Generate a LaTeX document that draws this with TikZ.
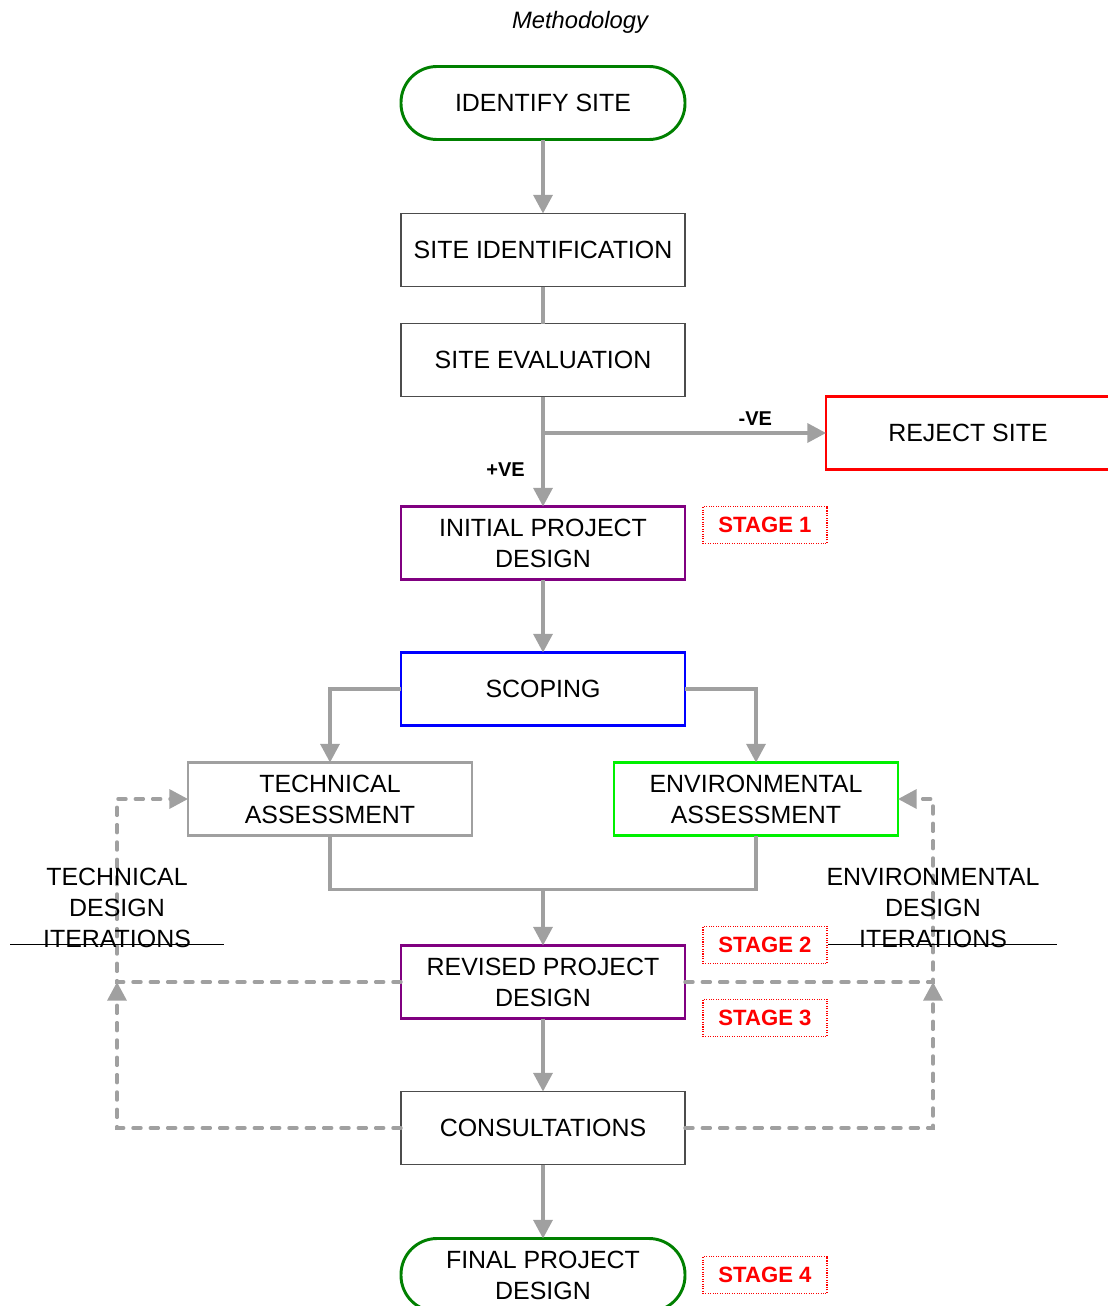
\documentclass[tikz,border=0pt]{standalone}
\usepackage{fontspec}
\setmainfont{Liberation Sans}
\usetikzlibrary{arrows.meta,positioning,calc}
\definecolor{linkgray}{HTML}{A0A0A0}
\definecolor{termgreen}{HTML}{008000}
\definecolor{envgreen}{HTML}{00F000}
\definecolor{designpurple}{HTML}{800080}
\newcommand{\boxfont}{\fontsize{18.7pt}{23.25pt}\selectfont}
\newcommand{\stagefont}{\fontsize{16.6pt}{20pt}\selectfont\bfseries}
\newcommand{\signfont}{\fontsize{15pt}{18pt}\selectfont\bfseries}
\tikzset{
    box/.style={
           rectangle,
           draw=black!70, line width=0.8pt,
           minimum width=213pt, minimum height=54.75pt,
           inner sep=2pt, outer sep=0pt,
           align=center,
           font=\boxfont,
           },
}
\tikzset{
    term/.style={
           box,
           rounded corners=27pt,
           draw=termgreen, line width=2.2pt,
           },
}
\tikzset{
    stagebox/.style={
           rectangle,
           draw=red, densely dotted, line width=0.8pt,
           minimum width=93pt, minimum height=27.75pt,
           inner sep=0pt, outer sep=0pt,
           text=red,
           font=\stagefont,
           },
}
\tikzset{
    link/.style={draw=linkgray, line width=2.6pt, -{Triangle[length=14pt,width=14.25pt]}},
    plain/.style={draw=linkgray, line width=2.6pt},
    iter/.style={draw=linkgray, line width=2.6pt, line cap=round, dash pattern=on 6pt off 7pt,
           -{Triangle[length=14pt,width=14.25pt]}},
    iterlabel/.style={align=center, font=\boxfont, inner sep=0pt},
}

\begin{document}
\begin{tikzpicture}
\useasboundingbox (0,0) rectangle (830.25pt,-979.5pt);
\node[font=\fontsize{17.8pt}{20pt}\selectfont\itshape] (title) at (435pt,-16.5pt) {Methodology};
\node[term] (identify) at (407.25pt,-77.25pt) {IDENTIFY SITE};
\node[box, below = 55.5pt of identify] (siteid) {SITE IDENTIFICATION};
\node[box, below = 27.75pt of siteid] (siteeval) {SITE EVALUATION};
\node[box, draw=red, line width=1.9pt, right = 105.75pt of siteeval, yshift=-54.75pt] (reject) {REJECT SITE};
\node[box, draw=designpurple, line width=1.9pt, below = 82.5pt of siteeval] (initial) {INITIAL PROJECT\\DESIGN};
\node[box, draw=blue, line width=1.9pt, below = 54.75pt of initial] (scoping) {SCOPING};
\node[box, draw=linkgray, line width=1.9pt, below = 27.75pt of scoping, xshift=-159.75pt] (tech) {TECHNICAL\\ASSESSMENT};
\node[box, draw=envgreen, line width=1.9pt, below = 27.75pt of scoping, xshift=159.75pt] (env) {ENVIRONMENTAL\\ASSESSMENT};
\node[box, draw=designpurple, line width=1.9pt, below = 165pt of scoping] (revised) {REVISED PROJECT\\DESIGN};
\node[box, below = 54.75pt of revised] (consult) {CONSULTATIONS};
\node[term, below = 55.5pt of consult] (final) {FINAL PROJECT\\DESIGN};

% stage tags
\node[stagebox, below right = 0pt and 13.5pt of initial.north east] (stage1) {STAGE 1};
\node[stagebox, above right = 13.9pt and 13.5pt of revised.east] (stage2) {STAGE 2};
\node[stagebox, below right = 13.1pt and 13.5pt of revised.east] (stage3) {STAGE 3};
\node[stagebox, right = 13.5pt of final] (stage4) {STAGE 4};

% junction points
\coordinate (split) at (siteeval.south |- reject.west);
\coordinate[above = 42pt of revised.north] (merge);
\coordinate[left = 53.25pt of tech.west] (tl);
\coordinate[right = 26.25pt of env.east] (tr);
\coordinate (tlm) at (tl |- revised.west);
\coordinate (trm) at (tr |- revised.east);

\draw[link] (identify) -- (siteid);
\draw[plain] (siteid) -- (siteeval);
\draw[plain] (siteeval) -- (split);
\draw[link] (split) -- node[pos=0.75, above=1pt, font=\signfont] (neg) {-VE} (reject.west);
\draw[link] (split) -- node[pos=0.5, left=9pt, font=\signfont] (pos) {+VE} (initial);
\draw[link] (initial) -- (scoping);
\draw[link] (scoping.west) -| (tech.north);
\draw[link] (scoping.east) -| (env.north);
\draw[plain] (tech.south) |- (merge) -| (env.south);
\draw[link] (merge) -- (revised);
\draw[link] (revised) -- (consult);
\draw[link] (consult) -- (final);

% design iterations
\draw[iter] (revised.west) -| (tl) -- (tech.west);
\draw[iter] (consult.west) -| (tlm);
\draw[iter] (revised.east) -| (tr) -- (env.east);
\draw[iter] (consult.east) -| (trm);
\node[iterlabel] (techiter) at ([yshift=-81.4pt]tl) {TECHNICAL\\DESIGN\\ITERATIONS};
\node[iterlabel] (enviter) at ([yshift=-81.4pt]tr) {ENVIRONMENTAL\\DESIGN\\ITERATIONS};
\draw[line width=0.5pt] ($(tl)+(-80.25pt,-109.1pt)$) -- ($(tl)+(80.25pt,-109.1pt)$);
\draw[line width=0.5pt] ($(tr)+(-78.75pt,-109.1pt)$) -- ($(tr)+(93pt,-109.1pt)$);
\end{tikzpicture}
\end{document}
